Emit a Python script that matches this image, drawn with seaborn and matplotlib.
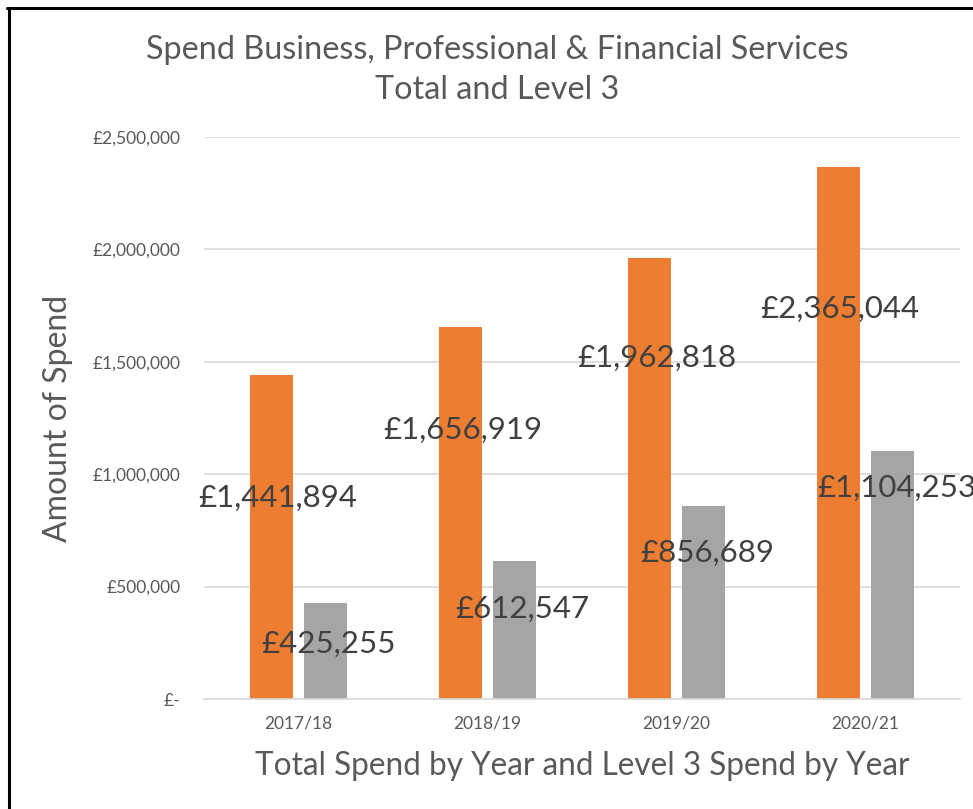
import matplotlib.pyplot as plt
import matplotlib.ticker as mticker
import pandas as pd
import seaborn as sns
from matplotlib.lines import Line2D

sns.set_style('white')
plt.rcParams['font.family'] = ['Lato', 'DejaVu Sans']

years = ['2017/18', '2018/19', '2019/20', '2020/21']
total_spend = [1441894, 1656919, 1962818, 2365044]
level3_spend = [425255, 612547, 856689, 1104253]

# where Excel left the data labels, offset from each bar top (pixels)
total_label_dx = [6, 2.5, 7.5, 1]
total_label_dy = [-132, -112.5, -109, -150]
level3_label_dx = [3, 7.5, 4, 4]
level3_label_dy = [-49.6, -56.7, -55.6, -46.2]

df = pd.DataFrame({
    'year': years * 2,
    'spend': total_spend + level3_spend,
    'series': ['Total'] * 4 + ['Level 3'] * 4,
})

text_col = '#595959'
label_col = '#404040'

fig = plt.figure(figsize=(9.73, 8.09), dpi=100)
ax = fig.add_axes([204 / 973, 1 - 699 / 809, 756 / 973, 562 / 809])

sns.barplot(data=df, x='year', y='spend', hue='series', ax=ax,
            palette=['#ED7D31', '#A5A5A5'], saturation=1,
            width=0.571, gap=0.204, linewidth=0, legend=False, errorbar=None)

ax.set_ylim(0, 2500000)
ax.set_xlim(-0.5, 3.5)
ax.yaxis.set_major_locator(mticker.MultipleLocator(500000))
ax.yaxis.set_major_formatter(mticker.FuncFormatter(
    lambda v, p: '£-' if v == 0 else f'£{v:,.0f}'))
ax.grid(axis='y', color='#D9D9D9', linewidth=1.2)
ax.set_axisbelow(True)
for s in ['top', 'right', 'left']:
    ax.spines[s].set_visible(False)
ax.spines['bottom'].set_color('#D9D9D9')
ax.spines['bottom'].set_linewidth(1.2)
ax.tick_params(axis='both', length=0, labelsize=12.5, labelcolor=text_col)
ax.tick_params(axis='y', pad=17)
ax.tick_params(axis='x', pad=12)

ax.set_xlabel('Total Spend by Year and Level 3 Spend by Year',
              fontsize=22.7, color=text_col, labelpad=14)
ax.set_ylabel('Amount of Spend', fontsize=23, color=text_col)
ax.yaxis.set_label_coords(-0.173, 0.5)

bars = ax.patches
series_bars = [bars[:4], bars[4:8]]
series_vals = [total_spend, level3_spend]
series_dx = [total_label_dx, level3_label_dx]
series_dy = [total_label_dy, level3_label_dy]
for bs, vals, dxs, dys in zip(series_bars, series_vals, series_dx, series_dy):
    for b, v, dx, dy in zip(bs, vals, dxs, dys):
        ax.annotate(f'£{v:,.0f}', xy=(b.get_x() + b.get_width() / 2, b.get_height()),
                    xytext=(dx, dy), textcoords='offset pixels',
                    ha='center', va='baseline', fontsize=22.5, color=label_col,
                    annotation_clip=False)

fig.text(497 / 973, 1 - 70 / 809,
         'Spend Business, Professional & Financial Services\nTotal and Level 3',
         ha='center', va='center', fontsize=23.3, color=text_col, linespacing=1.42)

# chart border, only the left and top edges show in the picture
fig.add_artist(Line2D([8.5 / 973, 8.5 / 973], [0, 1 - 7.5 / 809],
                      transform=fig.transFigure, color='black', linewidth=2.2))
fig.add_artist(Line2D([7.4 / 973, 1], [1 - 7.5 / 809, 1 - 7.5 / 809],
                      transform=fig.transFigure, color='black', linewidth=2.2))

plt.savefig('out.png', dpi=100)
